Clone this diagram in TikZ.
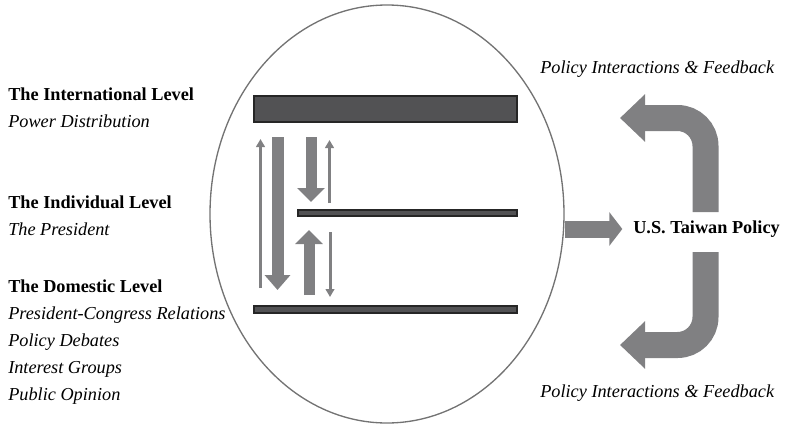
\documentclass[tikz,border=0pt]{standalone}
\usepackage{fontspec}
\setmainfont{Liberation Serif}
\usepackage{tikz}
\usetikzlibrary{arrows.meta}

\definecolor{arrowgray}{RGB}{128,128,130}
\definecolor{bargray}{RGB}{82,82,84}
\tikzset{
  lvl/.style={anchor=base west,inner sep=0pt,font=\fontsize{13.7}{16}\selectfont\bfseries},
  sub/.style={anchor=base west,inner sep=0pt,font=\fontsize{13.7}{16}\selectfont\itshape},
  bar/.style={draw=black!85,fill=bargray,line width=0.8pt},
  thickarrow/.style={arrowgray,line width=9pt,-{Triangle[width=18.75pt,length=11.25pt]}},
  midarrow/.style={arrowgray,line width=8.25pt,-{Triangle[width=20pt,length=10.5pt]}},
  thinarrow/.style={arrowgray,line width=2.25pt,-{Triangle[width=6.5pt,length=6pt]}},
  outarrow/.style={arrowgray,line width=12.75pt,-{Triangle[width=24.75pt,length=9.75pt]}},
  loop/.style={arrowgray,line width=19.5pt,rounded corners=21pt,-{Triangle[width=34.5pt,length=18.75pt]}}
}

\begin{document}
\begin{tikzpicture}[x=0.75pt,y=-0.75pt]
\useasboundingbox (0,0) rectangle (786,429);

\draw[draw=black!55,line width=1pt] (387,214) ellipse [x radius=177, y radius=209];

\draw[bar] (254,96) rectangle (517,122);
\draw[bar] (298,210) rectangle (517,216);
\draw[bar] (254,306) rectangle (517,313);

\draw[thinarrow] (260.5,288) -- (260.5,139);
\draw[thickarrow] (277.5,137) -- (277.5,290);
\draw[midarrow] (311,137) -- (311,202);
\draw[thinarrow] (329.5,203) -- (329.5,140);
\draw[midarrow] (309,295) -- (309,230);
\draw[thinarrow] (330,232) -- (330,297);

\node[lvl] (intl) at (8,100) {The International Level};
\node[sub] (intlsub) at (8,127) {Power Distribution};
\node[lvl] (indiv) at (8,208) {The Individual Level};
\node[sub] (indivsub) at (8,235) {The President};
\node[lvl] (dom) at (8,292) {The Domestic Level};
\node[sub] (domA) at (8,319) {President-Congress Relations};
\node[sub] (domB) at (8,346) {Policy Debates};
\node[sub] (domC) at (8,373) {Interest Groups};
\node[sub] (domD) at (8,400) {Public Opinion};

\node[lvl,anchor=west] (policy) at (633,229) {U.S. Taiwan Policy};
\node[sub] (fbtop) at (540,73) {Policy Interactions \& Feedback};
\node[sub] (fbbot) at (540,397) {Policy Interactions \& Feedback};

\draw[outarrow,shorten >=8pt] (565,229) -- (policy.west);

\draw[loop] (705.5,212) -- (705.5,118) -- (620,118);
\draw[loop] (705.5,252) -- (705.5,345) -- (620,345);

\end{tikzpicture}
\end{document}
